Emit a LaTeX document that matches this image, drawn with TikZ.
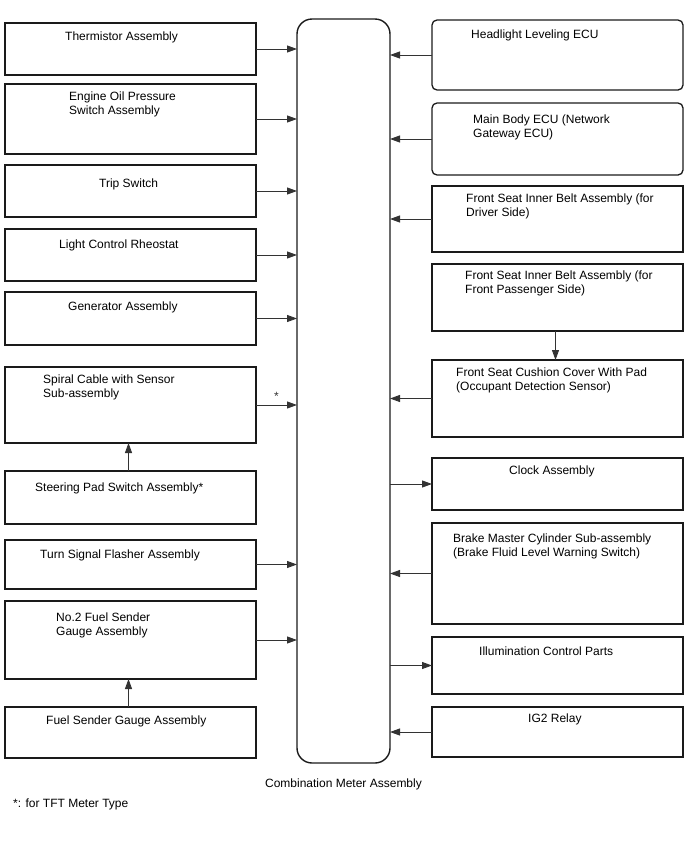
\documentclass[tikz,border=0pt]{standalone}
\usepackage{fontspec}
\setmainfont{Liberation Sans}
\usepackage{tikz}
\usetikzlibrary{
  arrows.meta,
  positioning
}
\definecolor{meterLine}{HTML}{1A1A1A}
\definecolor{feedGray}{HTML}{333333}
\tikzset{
  unitBox/.style={
    draw=meterLine,
    line width=1.3pt,
    minimum width=251pt,
    inner sep=0pt,
    outer sep=0pt
  },
  roundUnit/.style={unitBox, rounded corners=5pt},
  unitText/.style={
    anchor=north west,
    align=left,
    inner sep=0pt,
    yshift=-1pt,
    font=\fontsize{12}{14}\selectfont
  },
  meterBox/.style={
    draw=meterLine,
    line width=1.4pt,
    rounded corners=15pt,
    minimum width=93pt,
    minimum height=744pt,
    inner sep=0pt,
    outer sep=0pt
  },
  feedArrow/.style={-{Triangle[length=10pt,width=7pt]}, line width=0.9pt, feedGray},
  noteText/.style={inner sep=0pt, font=\fontsize{12}{14}\selectfont}
}

\begin{document}
\begin{tikzpicture}[x=1pt,y=-1pt]
  \useasboundingbox (0,0) rectangle (688,852);

  % combination meter
  \node[meterBox] (meter) at (343.5,391) {};
  \node[noteText, below=16pt of meter] (meterName) {Combination Meter Assembly};

  % left column
  \node[unitBox, minimum height=52pt] (therm) at (130.5,49) {};
  \node[unitText] (thermText) at (65,31) {Thermistor Assembly};
  \node[unitBox, minimum height=70pt] (oilSw) at (130.5,119) {};
  \node[unitText] (oilSwText) at (69,91) {Engine Oil Pressure\\Switch Assembly};
  \node[unitBox, minimum height=52pt] (tripSw) at (130.5,191) {};
  \node[unitText] (tripSwText) at (99,178) {Trip Switch};
  \node[unitBox, minimum height=52pt] (rheo) at (130.5,255) {};
  \node[unitText] (rheoText) at (59,239) {Light Control Rheostat};
  \node[unitBox, minimum height=53pt] (gen) at (130.5,318.5) {};
  \node[unitText] (genText) at (68,301) {Generator Assembly};
  \node[unitBox, minimum height=76pt] (spiral) at (130.5,405) {};
  \node[unitText] (spiralText) at (43,374) {Spiral Cable with Sensor\\Sub-assembly};
  \node[unitBox, minimum height=53pt] (steer) at (130.5,497.5) {};
  \node[unitText] (steerText) at (35,482) {Steering Pad Switch Assembly*};
  \node[unitBox, minimum height=49pt] (flasher) at (130.5,564.5) {};
  \node[unitText] (flasherText) at (40,549) {Turn Signal Flasher Assembly};
  \node[unitBox, minimum height=78pt] (fuelTwo) at (130.5,640) {};
  \node[unitText] (fuelTwoText) at (56,612) {No.2 Fuel Sender\\Gauge Assembly};
  \node[unitBox, minimum height=51pt] (fuelSender) at (130.5,732.5) {};
  \node[unitText] (fuelSenderText) at (46,715) {Fuel Sender Gauge Assembly};

  % right column
  \node[roundUnit, minimum height=70pt] (levelEcu) at (557.5,55) {};
  \node[unitText] (levelEcuText) at (471,29) {Headlight Leveling ECU};
  \node[roundUnit, minimum height=72pt] (bodyEcu) at (557.5,139) {};
  \node[unitText] (bodyEcuText) at (473,114) {Main Body ECU (Network\\Gateway ECU)};
  \node[unitBox, minimum height=66pt] (beltDrv) at (557.5,219) {};
  \node[unitText] (beltDrvText) at (466,193) {Front Seat Inner Belt Assembly (for\\Driver Side)};
  \node[unitBox, minimum height=67pt] (beltPas) at (557.5,297.5) {};
  \node[unitText] (beltPasText) at (465,270) {Front Seat Inner Belt Assembly (for\\Front Passenger Side)};
  \node[unitBox, minimum height=77pt] (cushion) at (557.5,398.5) {};
  \node[unitText] (cushionText) at (456,367) {Front Seat Cushion Cover With Pad\\(Occupant Detection Sensor)};
  \node[unitBox, minimum height=52pt] (clock) at (557.5,484) {};
  \node[unitText] (clockText) at (509,465) {Clock Assembly};
  \node[unitBox, minimum height=101pt] (brakeSw) at (557.5,573.5) {};
  \node[unitText] (brakeSwText) at (453,533) {Brake Master Cylinder Sub-assembly\\(Brake Fluid Level Warning Switch)};
  \node[unitBox, minimum height=57pt] (illum) at (557.5,665.5) {};
  \node[unitText] (illumText) at (479,646) {Illumination Control Parts};
  \node[unitBox, minimum height=50pt] (igRelay) at (557.5,732) {};
  \node[unitText] (igRelayText) at (528,713) {IG2 Relay};

  % inputs to the meter
  \foreach \src in {therm,oilSw,tripSw,rheo,gen,flasher,fuelTwo}
    \draw[feedArrow] (\src.east) -- (\src.east -| meter.west);
  \draw[feedArrow] (spiral.east) -- node[noteText, above=4pt] (starMark) {*} (spiral.east -| meter.west);
  \foreach \src in {levelEcu,bodyEcu,beltDrv,cushion,brakeSw,igRelay}
    \draw[feedArrow] (\src.west) -- (\src.west -| meter.east);

  % outputs from the meter
  \foreach \dst in {clock,illum}
    \draw[feedArrow] (\dst.west -| meter.east) -- (\dst.west);

  % sub-links
  \draw[feedArrow] ([xshift=-2pt]steer.north) -- ([xshift=-2pt]spiral.south);
  \draw[feedArrow] ([xshift=-2pt]fuelSender.north) -- ([xshift=-2pt]fuelTwo.south);
  \draw[feedArrow] ([xshift=-2pt]beltPas.south) -- ([xshift=-2pt]cushion.north);

  \node[noteText, anchor=west] (footNote) at (13,804) {*: for TFT Meter Type};
\end{tikzpicture}
\end{document}
